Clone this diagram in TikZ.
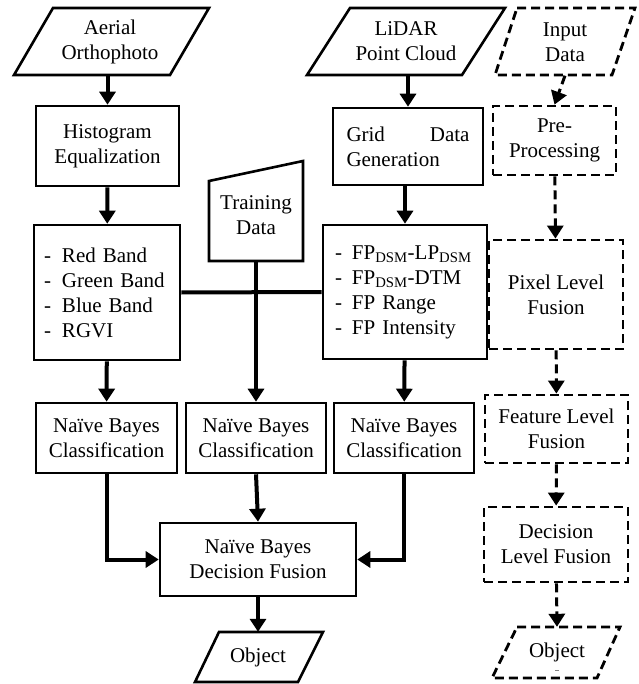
\documentclass[tikz,border=0pt]{standalone}
\usepackage{fontspec}
\setmainfont{Liberation Serif}
\usetikzlibrary{arrows.meta}
\begin{document}
\begin{tikzpicture}[x=1pt,y=-1pt,
  font=\fontsize{21}{25}\selectfont,
  box/.style={draw,line width=2.6pt,align=center,inner sep=0pt},
  dbox/.style={box,line width=2.8pt,dash pattern=on 9pt off 5pt},
  lbl/.style={align=center,inner sep=0pt},
  arr/.style={line width=4pt,-{Triangle[width=16pt,length=13pt]}},
  darr/.style={line width=3pt,dash pattern=on 9pt off 5pt,-{Triangle[width=16pt,length=13pt]}},
  shp/.style={draw,line width=2.6pt,line join=miter},
  dshp/.style={shp,line width=2.8pt,dash pattern=on 9pt off 5pt}]
\useasboundingbox (0,0) rectangle (638,684);

% ---- left column
\node[lbl,minimum height=67pt] (aerial) at (110,41.5) {Aerial\\Orthophoto};
\draw[shp] (53,8) -- (209,8) -- (170,75) -- (14,75) -- cycle;
\node[box,minimum width=143pt,minimum height=80pt] (hist) at (107.5,146) {Histogram\\Equalization};
\node[box,minimum height=135pt,text width=126pt,align=left,inner xsep=10pt] (list1) at (107,292.5)
  {\makebox[18pt][l]{-}Red Band\\\makebox[18pt][l]{-}Green Band\\\makebox[18pt][l]{-}Blue Band\\\makebox[18pt][l]{-}RGVI};
\node[box,minimum width=141pt,minimum height=70pt] (nb1) at (106.5,438) {Naïve Bayes\\Classification};

% ---- training data
\node[lbl] (train) at (256,215) {Training\\Data};
\draw[shp] (209,181) -- (303,161) -- (303,261) -- (209,261) -- cycle;
\coordinate (trainb) at (256,261);
\node[box,minimum width=140pt,minimum height=70pt] (nb2) at (256,438) {Naïve Bayes\\Classification};

% ---- LiDAR column
\node[lbl,minimum height=67pt] (lidar) at (406,41.5) {LiDAR\\Point Cloud};
\draw[shp] (350,8) -- (505,8) -- (462,75) -- (307,75) -- cycle;
\node[box,minimum height=77pt,text width=123pt,align=left,inner xsep=13.5pt] (grid) at (408,146.5) {Grid\hfill Data\\Generation};
\node[box,minimum height=134pt,text width=140pt,align=left,inner xsep=12pt] (list2) at (405,292)
  {\makebox[17pt][l]{-}FP\textsubscript{DSM}-LP\textsubscript{DSM}\\\makebox[17pt][l]{-}FP\textsubscript{DSM}-DTM\\\makebox[17pt][l]{-}FP Range\\\makebox[17pt][l]{-}FP Intensity};
\node[box,minimum width=140pt,minimum height=70pt] (nb3) at (404,438) {Naïve Bayes\\Classification};

% ---- fusion
\node[box,minimum width=196pt,minimum height=73pt] (df) at (258,559.5) {Naïve Bayes\\Decision Fusion};
\node[lbl,minimum height=50pt] (obj) at (258,657) {Object};
\draw[shp] (219,632) -- (323,632) -- (298,682) -- (195,682) -- cycle;

% ---- connectors
\draw[arr] (aerial.south -| hist.north) -- (hist.north);
\draw[arr] (hist) -- (list1);
\draw[arr] (list1) -- (nb1);
\draw[arr] (lidar.south -| grid.north) -- (grid.north);
\draw[arr] (grid.south -| list2.north) -- (list2.north);
\draw[arr] (list2) -- (nb3);
\draw[line width=4pt] (list1.east) -- (list2.west);
\draw[arr] (trainb) -- (nb2.north);
\draw[arr] (nb1.south) |- (df.west);
\draw[arr] (nb3.south) |- (df.east);
\draw[arr] (nb2.south) -- (df.north);
\draw[arr] (df) -- (obj.north);

% ---- dashed legend column
\node[lbl,minimum height=67pt] (inp) at (565,42) {Input\\Data};
\draw[dshp] (517,8) -- (635,8) -- (612,75) -- (495,75) -- cycle;
\node[dbox,minimum width=123pt,minimum height=69pt] (pre) at (554.5,140.5) {Pre-\\Processing};
\node[dbox,minimum width=134pt,minimum height=109pt] (pix) at (556,294.5) {Pixel Level\\Fusion};
\node[dbox,minimum width=143pt,minimum height=68pt] (feat) at (556.5,429) {Feature Level\\Fusion};
\node[dbox,minimum width=144pt,minimum height=75pt] (dec) at (556,544.5) {Decision\\Level Fusion};
\node[lbl,minimum height=51pt] (dobj) at (557,652.5) {Object};
\draw[dshp] (517,627) -- (620,627) -- (597,678) -- (492,678) -- cycle;
\draw[gray,line width=0.8pt] (555,670) -- (559,670);

\draw[darr] (inp.south) -- (pre.north);
\draw[darr] (pre) -- (pix);
\draw[darr] (pix) -- (feat);
\draw[darr] (feat) -- (dec);
\draw[darr] (dec) -- (dobj.north);
\end{tikzpicture}
\end{document}
